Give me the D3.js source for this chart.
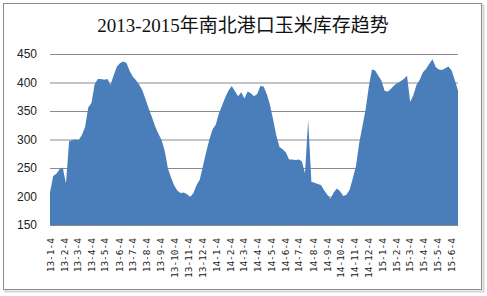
<!DOCTYPE html>
<html>
<head>
<meta charset="utf-8">
<script src="https://cdn.jsdelivr.net/npm/d3@7"></script>
<style>
body { margin: 0; background: #fff; }
</style>
</head>
<body>
<svg id="chart" width="487" height="296"></svg>
<script>
// weekly stock readings (Fridays), 10k tonnes
var weekDates = [
    "2013-01-04","2013-01-11","2013-01-18","2013-01-25","2013-02-01","2013-02-08","2013-02-15","2013-02-22",
    "2013-03-01","2013-03-08","2013-03-15","2013-03-22","2013-03-29","2013-04-05","2013-04-12","2013-04-19",
    "2013-04-26","2013-05-03","2013-05-10","2013-05-17","2013-05-24","2013-05-31","2013-06-07","2013-06-14",
    "2013-06-21","2013-06-28","2013-07-05","2013-07-12","2013-07-19","2013-07-26","2013-08-02","2013-08-09",
    "2013-08-16","2013-08-23","2013-08-30","2013-09-06","2013-09-13","2013-09-20","2013-09-27","2013-10-04",
    "2013-10-11","2013-10-18","2013-10-25","2013-11-01","2013-11-08","2013-11-15","2013-11-22","2013-11-29",
    "2013-12-06","2013-12-13","2013-12-20","2013-12-27",
    "2014-01-03","2014-01-10","2014-01-17","2014-01-24","2014-01-31","2014-02-07","2014-02-14","2014-02-21",
    "2014-02-28","2014-03-07","2014-03-14","2014-03-21","2014-03-28","2014-04-04","2014-04-11","2014-04-18",
    "2014-04-25","2014-05-02","2014-05-09","2014-05-16","2014-05-23","2014-05-30","2014-06-06","2014-06-13",
    "2014-06-20","2014-06-27","2014-07-04","2014-07-11","2014-07-18","2014-07-25","2014-08-01","2014-08-08",
    "2014-08-15","2014-08-22","2014-08-29","2014-09-05","2014-09-12","2014-09-19","2014-09-26","2014-10-03",
    "2014-10-10","2014-10-17","2014-10-24","2014-10-31","2014-11-07","2014-11-14","2014-11-21","2014-11-28",
    "2014-12-05","2014-12-12","2014-12-19","2014-12-26",
    "2015-01-02","2015-01-09","2015-01-16","2015-01-23","2015-01-30","2015-02-06","2015-02-13","2015-02-20",
    "2015-02-27","2015-03-06","2015-03-13","2015-03-20","2015-03-27","2015-04-03","2015-04-10","2015-04-17",
    "2015-04-24","2015-05-01","2015-05-08","2015-05-15","2015-05-22","2015-05-29","2015-06-05","2015-06-12",
    "2015-06-19"
];

var stockValues = [
    207, 236, 240, 248, 251, 223, 297, 299, 300, 299,
    308, 322, 356, 364, 397, 406, 406, 405, 406, 396,
    413, 428, 434, 437, 434, 420, 410, 404, 396, 386,
    370, 354, 339, 323, 310, 299, 280, 249, 233, 219,
    210, 206, 207, 204, 199, 206, 220, 230, 254, 278,
    300, 318, 326, 346, 360, 374, 386, 394, 385, 376,
    383, 372, 384, 381, 376, 380, 394, 393, 380, 361,
    335, 307, 287, 283, 277, 265, 265, 264, 265, 262,
    241, 334, 226, 224, 222, 220, 211, 203, 196, 207,
    214, 209, 201, 203, 212, 232, 254, 294, 323, 352,
    392, 423, 421, 412, 403, 385, 384, 389, 395, 399,
    402, 406, 412, 366, 378, 396, 405, 418, 424, 433,
    441, 427, 423, 422, 425, 428, 421, 404, 386
];

var tickLabels = [
    "13-1-4","13-2-4","13-3-4","13-4-4","13-5-4","13-6-4","13-7-4","13-8-4","13-9-4","13-10-4",
    "13-11-4","13-12-4","14-1-4","14-2-4","14-3-4","14-4-4","14-5-4","14-6-4","14-7-4","14-8-4",
    "14-9-4","14-10-4","14-11-4","14-12-4","15-1-4","15-2-4","15-3-4","15-4-4","15-5-4","15-6-4"
];

var yTicks = [150, 200, 250, 300, 350, 400, 450];
var chartTitle = "2013-2015年南北港口玉米库存趋势";

var svg = d3.select("svg#chart");
var margin = { top: 54, right: 29, bottom: 71, left: 50 };
var width = 487, height = 296;
var plotWidth = width - margin.left - margin.right;
var plotHeight = height - margin.top - margin.bottom;

var parseDay = d3.timeParse("%Y-%m-%d");
var parseTick = d3.timeParse("%y-%m-%d");

var data = weekDates.map(function (d, i) {
    return { date: parseDay(d), value: stockValues[i] };
});
var tickDates = tickLabels.map(function (t) { return parseTick(t); });

// chart frame with a soft shadow
svg.append("rect")
    .attr("x", 5.5).attr("y", 5.5)
    .attr("width", 478).attr("height", 286)
    .attr("fill", "none")
    .attr("stroke", "#d4d4d4")
    .attr("stroke-width", 2);
svg.append("rect")
    .attr("x", 3.5).attr("y", 3.5)
    .attr("width", 478).attr("height", 286)
    .attr("fill", "#fff")
    .attr("stroke", "#8c8c8c");

svg.append("text")
    .attr("x", 243)
    .attr("y", 32)
    .attr("text-anchor", "middle")
    .style("font-family", "'Liberation Serif', 'Noto Sans CJK SC', serif")
    .style("font-size", "19px")
    .style("fill", "#111")
    .text(chartTitle);

var x = d3.scaleTime()
    .domain(d3.extent(data, function (d) { return d.date; }))
    .range([0, plotWidth]);

var y = d3.scaleLinear()
    .domain([150, 450])
    .range([plotHeight, 0]);

var plot = svg.append("g")
    .attr("id", "plot")
    .attr("transform", "translate(" + margin.left + "," + margin.top + ")");

// gridlines + y labels
var yAxis = d3.axisLeft(y)
    .tickValues(yTicks)
    .tickSize(-plotWidth)
    .tickPadding(13)
    .tickFormat(d3.format("d"));

var yGroup = plot.append("g").attr("id", "y-axis").call(yAxis);
yGroup.select(".domain").remove();
yGroup.selectAll("line").attr("stroke", "#8a8a8a");
yGroup.selectAll("text")
    .style("font-family", "'Liberation Sans', sans-serif")
    .style("font-size", "12px")
    .style("fill", "#222");

var area = d3.area()
    .x(function (d) { return x(d.date); })
    .y0(plotHeight)
    .y1(function (d) { return y(d.value); });

plot.append("path")
    .datum(data)
    .attr("fill", "#4a7ebb")
    .attr("d", area);

var xAxis = d3.axisBottom(x)
    .tickValues(tickDates)
    .tickSize(0)
    .tickFormat(function (d, i) { return tickLabels[i]; });

var xGroup = plot.append("g")
    .attr("id", "x-axis")
    .attr("transform", "translate(0," + plotHeight + ")")
    .call(xAxis);
xGroup.select(".domain").remove();
xGroup.selectAll("text")
    .attr("transform", "rotate(-90)")
    .attr("x", -13)
    .attr("y", 0)
    .attr("dy", "0.35em")
    .style("text-anchor", "end")
    .style("font-family", "'DejaVu Sans Mono', monospace")
    .style("font-size", "9.5px")
    .style("fill", "#222");
</script>
</body>
</html>
